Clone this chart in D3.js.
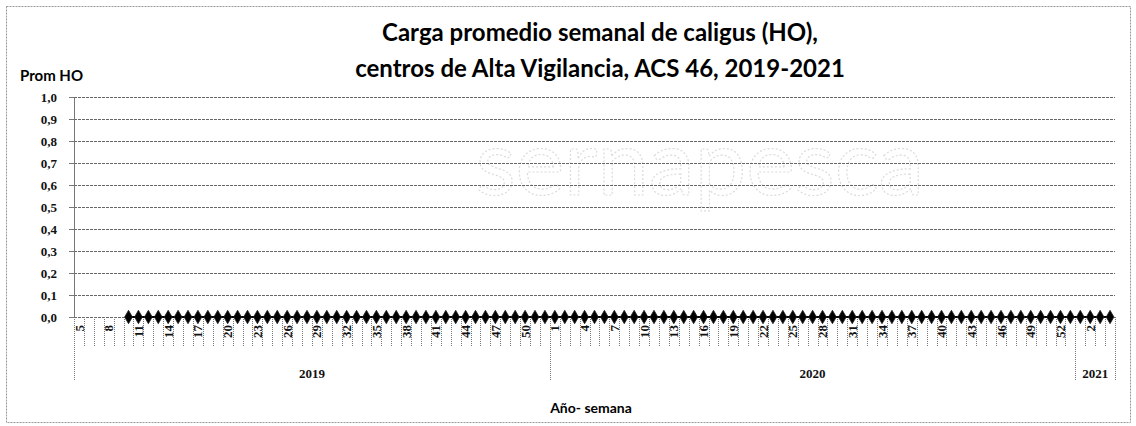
<!DOCTYPE html>
<html>
<head>
<meta charset="utf-8">
<script src="https://cdn.jsdelivr.net/npm/d3@7"></script>
<style>
  body { margin: 0; background: #fff; }
  svg { display: block; }
</style>
</head>
<body>
<div id="chart"></div>
<script>
// semanas por año (eje x)
var weeks2019 = [5, 6, 7, 8, 9, 10, 11, 12, 13, 14, 15, 16, 17, 18, 19, 20, 21, 22, 23, 24, 25, 26, 27, 28,
                 29, 30, 31, 32, 33, 34, 35, 36, 37, 38, 39, 40, 41, 42, 43, 44, 45, 46, 47, 48, 49, 50, 51, 52];
var weeks2020 = [1, 2, 3, 4, 5, 6, 7, 8, 9, 10, 11, 12, 13, 14, 15, 16, 17, 18, 19, 20, 21, 22, 23, 24, 25, 26, 27,
                 28, 29, 30, 31, 32, 33, 34, 35, 36, 37, 38, 39, 40, 41, 42, 43, 44, 45, 46, 47, 48, 49, 50, 51, 52, 53];
var weeks2021 = [1, 2, 3, 4];

// Prom HO por semana (null = sin dato)
var ho2019 = [null, null, null, null, null, 0, 0, 0, 0, 0, 0, 0, 0, 0, 0, 0, 0, 0, 0, 0, 0, 0, 0, 0,
              0, 0, 0, 0, 0, 0, 0, 0, 0, 0, 0, 0, 0, 0, 0, 0, 0, 0, 0, 0, 0, 0, 0, 0];
var ho2020 = [0, 0, 0, 0, 0, 0, 0, 0, 0, 0, 0, 0, 0, 0, 0, 0, 0, 0, 0, 0, 0, 0, 0, 0, 0, 0, 0,
              0, 0, 0, 0, 0, 0, 0, 0, 0, 0, 0, 0, 0, 0, 0, 0, 0, 0, 0, 0, 0, 0, 0, 0, 0, 0];
var ho2021 = [0, 0, 0, 0];

var yTicks = [0, 0.1, 0.2, 0.3, 0.4, 0.5, 0.6, 0.7, 0.8, 0.9, 1.0];

var years = [
  {year: "2019", weeks: weeks2019, vals: ho2019},
  {year: "2020", weeks: weeks2020, vals: ho2020},
  {year: "2021", weeks: weeks2021, vals: ho2021}
];

var w = 1136, h = 426;
var plotL = 74, plotR = 1115, plotT = 97, plotB = 317;

var data = [];
years.forEach(function(g){
  g.weeks.forEach(function(wk, i){
    data.push({key: g.year + "-" + wk, year: g.year, week: wk, value: g.vals[i]});
  });
});

var svg = d3.select("#chart").append("svg")
  .attr("width", w)
  .attr("height", h);

// marco exterior
svg.append("rect")
  .attr("x", 6.5).attr("y", 6.5)
  .attr("width", 1124).attr("height", 416)
  .attr("fill", "none")
  .attr("stroke", "#999")
  .attr("stroke-dasharray", "2,1");

var x = d3.scaleBand()
  .domain(data.map(function(d){ return d.key; }))
  .range([plotL, plotR])
  .padding(0);

var y = d3.scaleLinear()
  .domain([0, 1])
  .range([plotB, plotT]);

// marca de agua
svg.append("text")
  .attr("x", 700).attr("y", 195)
  .attr("text-anchor", "middle")
  .attr("font-family", "Lato, sans-serif")
  .attr("font-size", 92)
  .attr("fill", "none")
  .attr("stroke", "#dcdcdc")
  .attr("stroke-width", 1.2)
  .attr("stroke-dasharray", "2,2")
  .text("sernapesca");

// grilla
svg.append("g")
  .selectAll("line")
  .data(yTicks)
  .enter()
  .append("line")
  .attr("x1", plotL).attr("x2", plotR)
  .attr("y1", function(d){ return y(d); })
  .attr("y2", function(d){ return y(d); })
  .attr("stroke", "#666")
  .attr("stroke-width", 1)
  .attr("stroke-dasharray", "3,1")
  .attr("shape-rendering", "crispEdges");

// eje y
var fmt = function(d){ return d3.format(".1f")(d).replace(".", ","); };
var yAxis = svg.append("g")
  .attr("transform", "translate(" + plotL + ",0)")
  .call(d3.axisLeft(y).tickValues(yTicks).tickFormat(fmt).tickSize(5).tickPadding(12));
yAxis.select(".domain").attr("stroke", "#777");
yAxis.selectAll(".tick line").attr("stroke", "#777");
yAxis.selectAll("text")
  .attr("font-family", "'Liberation Serif', serif")
  .attr("font-weight", "bold")
  .attr("font-size", 13)
  .attr("fill", "#111");

// marcas entre categorías
var keys = x.domain();
var edges = keys.map(function(k){ return x(k); }).concat([plotR]);
var groupStarts = {};
var pos = 0;
years.forEach(function(g){ groupStarts[pos] = true; pos += g.weeks.length; });
groupStarts[pos] = true;

svg.append("g")
  .selectAll("line")
  .data(edges)
  .enter()
  .append("line")
  .attr("x1", function(d){ return Math.round(d) + 0.5; })
  .attr("x2", function(d){ return Math.round(d) + 0.5; })
  .attr("y1", plotB)
  .attr("y2", function(d, i){ return groupStarts[i] ? 381 : 347; })
  .attr("stroke", "#777")
  .attr("stroke-dasharray", "1,1");

// etiquetas de semana cada 3
var xAxis = svg.append("g")
  .attr("transform", "translate(0," + plotB + ")")
  .call(d3.axisBottom(x)
    .tickValues(keys.filter(function(k, i){ return i % 3 === 0; }))
    .tickFormat(function(k){ return k.split("-")[1]; })
    .tickSize(0));
xAxis.select(".domain").remove();
xAxis.selectAll("text")
  .attr("transform", "rotate(-90)")
  .attr("x", -8)
  .attr("y", 0)
  .attr("dy", "0.35em")
  .attr("text-anchor", "end")
  .attr("font-family", "'Liberation Serif', serif")
  .attr("font-weight", "bold")
  .attr("font-size", 13)
  .attr("fill", "#111");

// etiquetas de año
var yearX = [];
pos = 0;
years.forEach(function(g){
  var a = x(keys[pos]);
  var b = pos + g.weeks.length < keys.length ? x(keys[pos + g.weeks.length]) : plotR;
  yearX.push({year: g.year, cx: (a + b) / 2});
  pos += g.weeks.length;
});
svg.append("g")
  .selectAll("text")
  .data(yearX)
  .enter()
  .append("text")
  .attr("x", function(d){ return d.cx; })
  .attr("y", 378)
  .attr("text-anchor", "middle")
  .attr("font-family", "'Liberation Serif', serif")
  .attr("font-weight", "bold")
  .attr("font-size", 13)
  .attr("fill", "#111")
  .text(function(d){ return d.year; });

// serie
var line = d3.line()
  .defined(function(d){ return d.value !== null; })
  .x(function(d){ return x(d.key) + x.bandwidth() / 2; })
  .y(function(d){ return y(d.value); });

svg.append("path")
  .datum(data)
  .attr("d", line)
  .attr("fill", "none")
  .attr("stroke", "#000")
  .attr("stroke-width", 2);

svg.selectAll("path.pt")
  .data(data.filter(function(d){ return d.value !== null; }))
  .enter()
  .append("path")
  .attr("class", "pt")
  .attr("d", d3.symbol().type(d3.symbolDiamond).size(52))
  .attr("transform", function(d){
    return "translate(" + (x(d.key) + x.bandwidth() / 2) + "," + y(d.value) + ")";
  })
  .attr("fill", "#000")
  .attr("stroke", "#222")
  .attr("stroke-width", 0.8);

// títulos
svg.append("text")
  .attr("x", 600).attr("y", 41)
  .attr("text-anchor", "middle")
  .attr("font-family", "Lato, sans-serif")
  .attr("font-weight", "bold")
  .attr("font-size", 24)
  .attr("fill", "#000")
  .text("Carga promedio semanal de caligus (HO),");
svg.append("text")
  .attr("x", 600).attr("y", 77)
  .attr("text-anchor", "middle")
  .attr("font-family", "Lato, sans-serif")
  .attr("font-weight", "bold")
  .attr("font-size", 24)
  .attr("fill", "#000")
  .text("centros de Alta Vigilancia, ACS 46, 2019-2021");

svg.append("text")
  .attr("x", 20).attr("y", 81)
  .attr("font-family", "Lato, sans-serif")
  .attr("font-weight", "bold")
  .attr("font-size", 15)
  .attr("fill", "#000")
  .text("Prom HO");

svg.append("text")
  .attr("x", 591).attr("y", 413)
  .attr("text-anchor", "middle")
  .attr("font-family", "Lato, sans-serif")
  .attr("font-weight", "bold")
  .attr("font-size", 14)
  .attr("fill", "#000")
  .text("Año- semana");
</script>
</body>
</html>
